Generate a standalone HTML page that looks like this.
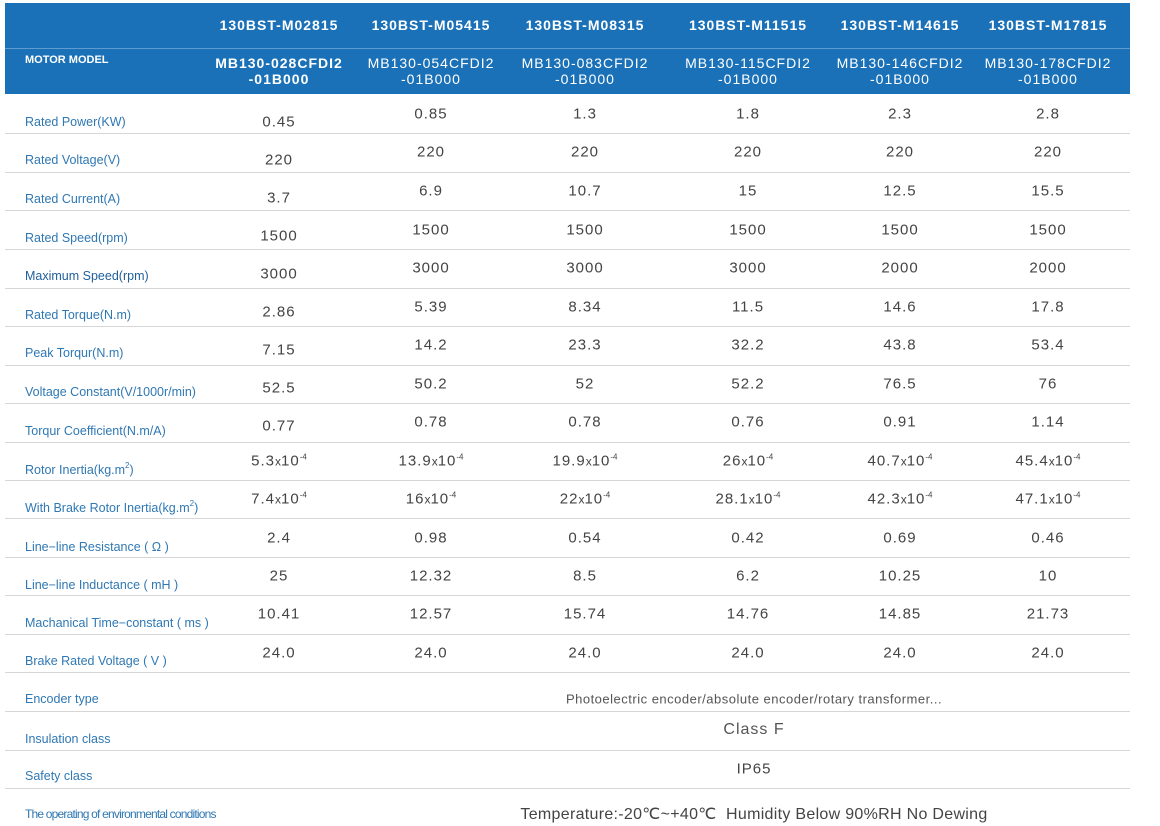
<!DOCTYPE html>
<html><head><meta charset="utf-8"><style>
body{margin:0;width:1160px;height:826px;background:#fff;position:relative;overflow:hidden;font-family:"Liberation Sans",Arial,sans-serif}
.hd{position:absolute;left:5px;top:3px;width:1125px;height:91px;background:#1a71b8}
.hl{position:absolute;left:5px;top:48px;width:1125px;height:1px;background:#5d9bd0}
.ln{position:absolute;left:5px;width:1125px;height:1px;background:#d6d6d6}
.c{position:absolute;transform:translate(-50%,-50%);white-space:nowrap;text-align:center}
.h1{color:#fff;font-weight:bold;font-size:14px;letter-spacing:1px}
.h2{color:#fff;font-size:14px;letter-spacing:1px;line-height:16px}
.l{position:absolute;left:25px;transform:translateY(-50%);color:#2f78b3;font-size:12.5px;white-space:nowrap}
.v{position:absolute;transform:translate(-50%,-50%);color:#444;font-size:15px;letter-spacing:1px;white-space:nowrap}
sup{font-size:8px;vertical-align:6px;letter-spacing:0}
.x{font-size:12px;letter-spacing:0}
</style></head><body>
<div class="hd"></div><div class="hl"></div>
<div class="c h1" style="left:279px;top:25px">130BST-M02815</div>
<div class="c h1" style="left:431px;top:25px">130BST-M05415</div>
<div class="c h1" style="left:585px;top:25px">130BST-M08315</div>
<div class="c h1" style="left:748px;top:25px">130BST-M11515</div>
<div class="c h1" style="left:900px;top:25px">130BST-M14615</div>
<div class="c h1" style="left:1048px;top:25px">130BST-M17815</div>
<div style="position:absolute;left:25px;top:54px;color:#fff;font-weight:bold;font-size:11px">MOTOR MODEL</div>
<div class="c h2" style="left:279px;top:71px;font-weight:bold">MB130-028CFDI2<br>-01B000</div>
<div class="c h2" style="left:431px;top:71px">MB130-054CFDI2<br>-01B000</div>
<div class="c h2" style="left:585px;top:71px">MB130-083CFDI2<br>-01B000</div>
<div class="c h2" style="left:748px;top:71px">MB130-115CFDI2<br>-01B000</div>
<div class="c h2" style="left:900px;top:71px">MB130-146CFDI2<br>-01B000</div>
<div class="c h2" style="left:1048px;top:71px">MB130-178CFDI2<br>-01B000</div>

<div class="ln" style="top:133px"></div><div class="ln" style="top:172px"></div><div class="ln" style="top:210px"></div><div class="ln" style="top:249px"></div><div class="ln" style="top:288px"></div><div class="ln" style="top:326px"></div><div class="ln" style="top:365px"></div><div class="ln" style="top:403px"></div><div class="ln" style="top:442px"></div><div class="ln" style="top:480px"></div><div class="ln" style="top:518px"></div><div class="ln" style="top:557px"></div><div class="ln" style="top:595px"></div><div class="ln" style="top:634px"></div><div class="ln" style="top:672px"></div><div class="ln" style="top:711px"></div><div class="ln" style="top:750px"></div><div class="ln" style="top:788px"></div>

<div class="l" style="top:122px">Rated Power(KW)</div>
<div class="v" style="left:279px;top:122px">0.45</div><div class="v" style="left:431px;top:114px">0.85</div><div class="v" style="left:585px;top:114px">1.3</div><div class="v" style="left:748px;top:114px">1.8</div><div class="v" style="left:900px;top:114px">2.3</div><div class="v" style="left:1048px;top:114px">2.8</div>
<div class="l" style="top:160px">Rated Voltage(V)</div>
<div class="v" style="left:279px;top:160px">220</div><div class="v" style="left:431px;top:152px">220</div><div class="v" style="left:585px;top:152px">220</div><div class="v" style="left:748px;top:152px">220</div><div class="v" style="left:900px;top:152px">220</div><div class="v" style="left:1048px;top:152px">220</div>
<div class="l" style="top:199px">Rated Current(A)</div>
<div class="v" style="left:279px;top:198px">3.7</div><div class="v" style="left:431px;top:191px">6.9</div><div class="v" style="left:585px;top:191px">10.7</div><div class="v" style="left:748px;top:191px">15</div><div class="v" style="left:900px;top:191px">12.5</div><div class="v" style="left:1048px;top:191px">15.5</div>
<div class="l" style="top:238px">Rated Speed(rpm)</div>
<div class="v" style="left:279px;top:236px">1500</div><div class="v" style="left:431px;top:230px">1500</div><div class="v" style="left:585px;top:230px">1500</div><div class="v" style="left:748px;top:230px">1500</div><div class="v" style="left:900px;top:230px">1500</div><div class="v" style="left:1048px;top:230px">1500</div>
<div class="l" style="top:276px;color:#1f5f9a">Maximum Speed(rpm)</div>
<div class="v" style="left:279px;top:274px">3000</div><div class="v" style="left:431px;top:268px">3000</div><div class="v" style="left:585px;top:268px">3000</div><div class="v" style="left:748px;top:268px">3000</div><div class="v" style="left:900px;top:268px">2000</div><div class="v" style="left:1048px;top:268px">2000</div>
<div class="l" style="top:315px">Rated Torque(N.m)</div>
<div class="v" style="left:279px;top:312px">2.86</div><div class="v" style="left:431px;top:307px">5.39</div><div class="v" style="left:585px;top:307px">8.34</div><div class="v" style="left:748px;top:307px">11.5</div><div class="v" style="left:900px;top:307px">14.6</div><div class="v" style="left:1048px;top:307px">17.8</div>
<div class="l" style="top:353px">Peak Torqur(N.m)</div>
<div class="v" style="left:279px;top:350px">7.15</div><div class="v" style="left:431px;top:345px">14.2</div><div class="v" style="left:585px;top:345px">23.3</div><div class="v" style="left:748px;top:345px">32.2</div><div class="v" style="left:900px;top:345px">43.8</div><div class="v" style="left:1048px;top:345px">53.4</div>
<div class="l" style="top:392px">Voltage Constant(V/1000r/min)</div>
<div class="v" style="left:279px;top:388px">52.5</div><div class="v" style="left:431px;top:384px">50.2</div><div class="v" style="left:585px;top:384px">52</div><div class="v" style="left:748px;top:384px">52.2</div><div class="v" style="left:900px;top:384px">76.5</div><div class="v" style="left:1048px;top:384px">76</div>
<div class="l" style="top:431px">Torqur Coefficient(N.m/A)</div>
<div class="v" style="left:279px;top:426px">0.77</div><div class="v" style="left:431px;top:422px">0.78</div><div class="v" style="left:585px;top:422px">0.78</div><div class="v" style="left:748px;top:422px">0.76</div><div class="v" style="left:900px;top:422px">0.91</div><div class="v" style="left:1048px;top:422px">1.14</div>
<div class="l" style="top:469px">Rotor Inertia(kg.m<sup>2</sup>)</div>
<div class="v" style="left:279px;top:461px">5.3<span class="x">x</span>10<sup>-4</sup></div><div class="v" style="left:431px;top:461px">13.9<span class="x">x</span>10<sup>-4</sup></div><div class="v" style="left:585px;top:461px">19.9<span class="x">x</span>10<sup>-4</sup></div><div class="v" style="left:748px;top:461px">26<span class="x">x</span>10<sup>-4</sup></div><div class="v" style="left:900px;top:461px">40.7<span class="x">x</span>10<sup>-4</sup></div><div class="v" style="left:1048px;top:461px">45.4<span class="x">x</span>10<sup>-4</sup></div>
<div class="l" style="top:507px">With Brake Rotor Inertia(kg.m<sup>2</sup>)</div>
<div class="v" style="left:279px;top:499px">7.4<span class="x">x</span>10<sup>-4</sup></div><div class="v" style="left:431px;top:499px">16<span class="x">x</span>10<sup>-4</sup></div><div class="v" style="left:585px;top:499px">22<span class="x">x</span>10<sup>-4</sup></div><div class="v" style="left:748px;top:499px">28.1<span class="x">x</span>10<sup>-4</sup></div><div class="v" style="left:900px;top:499px">42.3<span class="x">x</span>10<sup>-4</sup></div><div class="v" style="left:1048px;top:499px">47.1<span class="x">x</span>10<sup>-4</sup></div>
<div class="l" style="top:547px">Line−line Resistance ( Ω )</div>
<div class="v" style="left:279px;top:538px">2.4</div><div class="v" style="left:431px;top:538px">0.98</div><div class="v" style="left:585px;top:538px">0.54</div><div class="v" style="left:748px;top:538px">0.42</div><div class="v" style="left:900px;top:538px">0.69</div><div class="v" style="left:1048px;top:538px">0.46</div>
<div class="l" style="top:585px">Line−line Inductance ( mH )</div>
<div class="v" style="left:279px;top:576px">25</div><div class="v" style="left:431px;top:576px">12.32</div><div class="v" style="left:585px;top:576px">8.5</div><div class="v" style="left:748px;top:576px">6.2</div><div class="v" style="left:900px;top:576px">10.25</div><div class="v" style="left:1048px;top:576px">10</div>
<div class="l" style="top:623px">Machanical Time−constant ( ms )</div>
<div class="v" style="left:279px;top:614px">10.41</div><div class="v" style="left:431px;top:614px">12.57</div><div class="v" style="left:585px;top:614px">15.74</div><div class="v" style="left:748px;top:614px">14.76</div><div class="v" style="left:900px;top:614px">14.85</div><div class="v" style="left:1048px;top:614px">21.73</div>
<div class="l" style="top:661px">Brake Rated Voltage ( V )</div>
<div class="v" style="left:279px;top:653px">24.0</div><div class="v" style="left:431px;top:653px">24.0</div><div class="v" style="left:585px;top:653px">24.0</div><div class="v" style="left:748px;top:653px">24.0</div><div class="v" style="left:900px;top:653px">24.0</div><div class="v" style="left:1048px;top:653px">24.0</div>

<div class="l" style="top:699px">Encoder type</div>
<div class="v" style="left:754px;top:699px;font-size:13px;letter-spacing:0.5px;color:#555">Photoelectric encoder/absolute encoder/rotary transformer...</div>
<div class="l" style="top:739px">Insulation class</div>
<div class="v" style="left:754px;top:730px;font-size:16px;color:#555">Class F</div>
<div class="l" style="top:776px">Safety class</div>
<div class="v" style="left:754px;top:769px;font-size:15px;color:#444">IP65</div>
<div class="l" style="top:814px;font-size:12px;letter-spacing:-0.8px">The operating of environmental conditions</div>
<div class="v" style="left:754px;top:814px;font-size:16px;letter-spacing:0.3px;color:#444">Temperature:-20℃~+40℃ &nbsp;Humidity Below 90%RH No Dewing</div>
</body></html>
